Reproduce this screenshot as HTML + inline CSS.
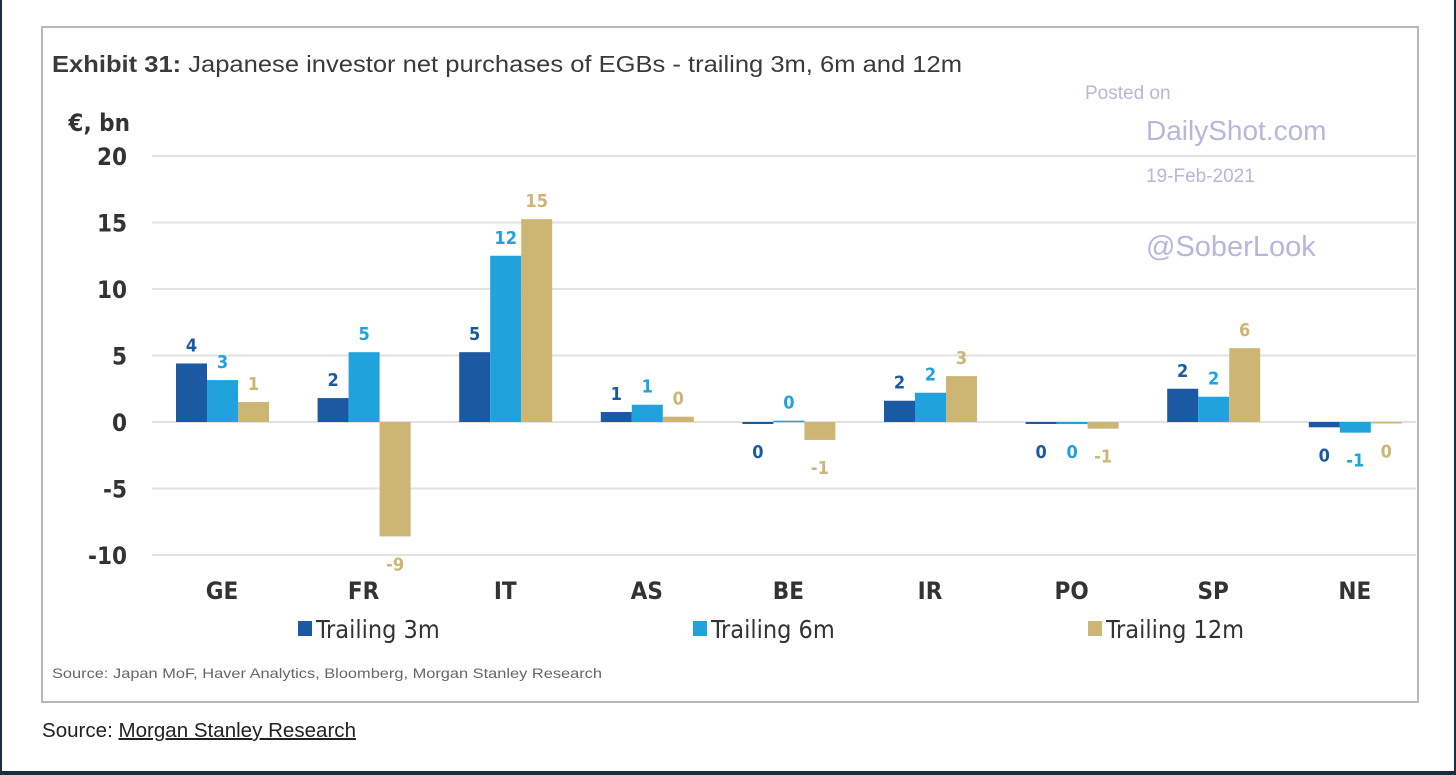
<!DOCTYPE html>
<html><head><meta charset="utf-8"><style>
html,body{margin:0;padding:0;background:#fff;}
#wrap{position:relative;width:1456px;height:775px;overflow:hidden;box-sizing:border-box;border-left:2px solid #1c2d3e;border-right:2px solid #1c2d3e;border-bottom:4px solid #1c2d3e;}
svg{position:absolute;left:-2px;top:0;}
.c{font-family:"Liberation Sans Narrow","DejaVu Sans Condensed","Liberation Sans",sans-serif;}
</style></head><body>
<div id="wrap">
<svg id="chart" width="1456" height="775" xmlns="http://www.w3.org/2000/svg">
<rect x="42" y="27" width="1376" height="675" fill="#fff" stroke="#b8b8b8" stroke-width="2"/>
<text x="52" y="72" font-family="Liberation Sans,sans-serif" font-size="23" fill="#3a3a3a" textLength="910" lengthAdjust="spacingAndGlyphs"><tspan font-weight="bold">Exhibit 31:</tspan>  Japanese investor net purchases of EGBs - trailing 3m, 6m and 12m</text>
<text x="130" y="131" text-anchor="end" class="c" font-size="24" font-weight="bold" fill="#333">€, bn</text>
<g id="grid"></g>
<g id="bars"></g>
<g id="labels"></g>
<g id="legend"></g>
<text x="1085" y="99" font-family="Liberation Sans,sans-serif" font-size="19" fill="#b4b8da">Posted on</text>
<text x="1146" y="140" font-family="Liberation Sans,sans-serif" font-size="28" fill="#b4b8da">DailyShot.com</text>
<text x="1146" y="182" font-family="Liberation Sans,sans-serif" font-size="19" fill="#b4b8da">19-Feb-2021</text>
<text x="1146" y="256" font-family="Liberation Sans,sans-serif" font-size="29" fill="#b4b8da">@SoberLook</text>
<text x="52" y="678" font-family="Liberation Sans,sans-serif" font-size="14" fill="#666" textLength="550" lengthAdjust="spacingAndGlyphs">Source: Japan MoF, Haver Analytics, Bloomberg, Morgan Stanley Research</text>
<text x="42" y="737" font-family="Liberation Sans,sans-serif" font-size="20" fill="#222" textLength="314" lengthAdjust="spacingAndGlyphs">Source: <tspan text-decoration="underline">Morgan Stanley Research</tspan></text>
</svg>
</div>
<script>
const categories=["GE","FR","IT","AS","BE","IR","PO","SP","NE"];
const trailing3m=[4.4,1.8,5.25,0.75,-0.15,1.6,-0.15,2.5,-0.4];
const trailing6m=[3.15,5.25,12.5,1.3,0.1,2.2,-0.15,1.9,-0.8];
const trailing12m=[1.5,-8.6,15.25,0.4,-1.35,3.45,-0.5,5.55,-0.1];
const labels3m=["4","2","5","1","0","2","0","2","0"];
const labels6m=["3","5","12","1","0","2","0","2","-1"];
const labels12m=["1","-9","15","0","-1","3","-1","6","0"];
const yTicks=[20,15,10,5,0,-5,-10];
const seriesNames=["Trailing 3m","Trailing 6m","Trailing 12m"];
const NS="http://www.w3.org/2000/svg";
const colors=["#1b5aa2","#20a3dd","#cdb574"];
const y=v=>422-v*13.3;
const x=i=>222+i*141.6;
function mk(tag,attrs,parent){const e=document.createElementNS(NS,tag);for(const k in attrs)e.setAttribute(k,attrs[k]);parent.appendChild(e);return e;}
const grid=document.getElementById('grid'),bars=document.getElementById('bars'),lab=document.getElementById('labels'),leg=document.getElementById('legend');
yTicks.forEach(t=>{
 const l=mk('line',{x1:152,x2:1416,y1:y(t),y2:y(t),stroke:'#e2e2e2','stroke-width':2},grid);
 
 
 const tx=mk('text',{x:127,y:y(t)+9,'text-anchor':'end','font-size':24,'font-weight':'bold',fill:'#333',class:'c'},grid);
 tx.textContent=t;
 
 
});
const series=[trailing3m,trailing6m,trailing12m],slabels=[labels3m,labels6m,labels12m];
categories.forEach((c,i)=>{
 const ct=mk('text',{x:x(i),y:599,'text-anchor':'middle','font-size':24,'font-weight':'bold',fill:'#333',class:'c'},lab);
 ct.textContent=c;
 
 
 series.forEach((s,j)=>{
  const v=s[i],bx=x(i)-46+j*31;
  const r=mk('rect',{x:bx,y:Math.min(y(v),y(0)),width:31,height:Math.max(1.5,Math.abs(y(v)-y(0))),fill:colors[j]},bars);
  
  
  const ly=v>=0?y(v)-12:Math.max(y(v),y(0))+34;
  const t=mk('text',{x:bx+15.5,y:ly,'text-anchor':'middle','font-size':18,'font-weight':'bold',fill:colors[j],class:'c'},lab);
  t.textContent=slabels[j][i];
  
  
 });
});
const lx=[298,693,1088];
seriesNames.forEach((n,j)=>{
 const r=mk('rect',{x:lx[j],y:621,width:14,height:15,fill:colors[j]},leg);
 
 
 const t=mk('text',{x:lx[j]+18,y:638,'font-size':25,fill:'#333',class:'c'},leg);
 t.textContent=n;
 
 
});
</script>
</body></html>
